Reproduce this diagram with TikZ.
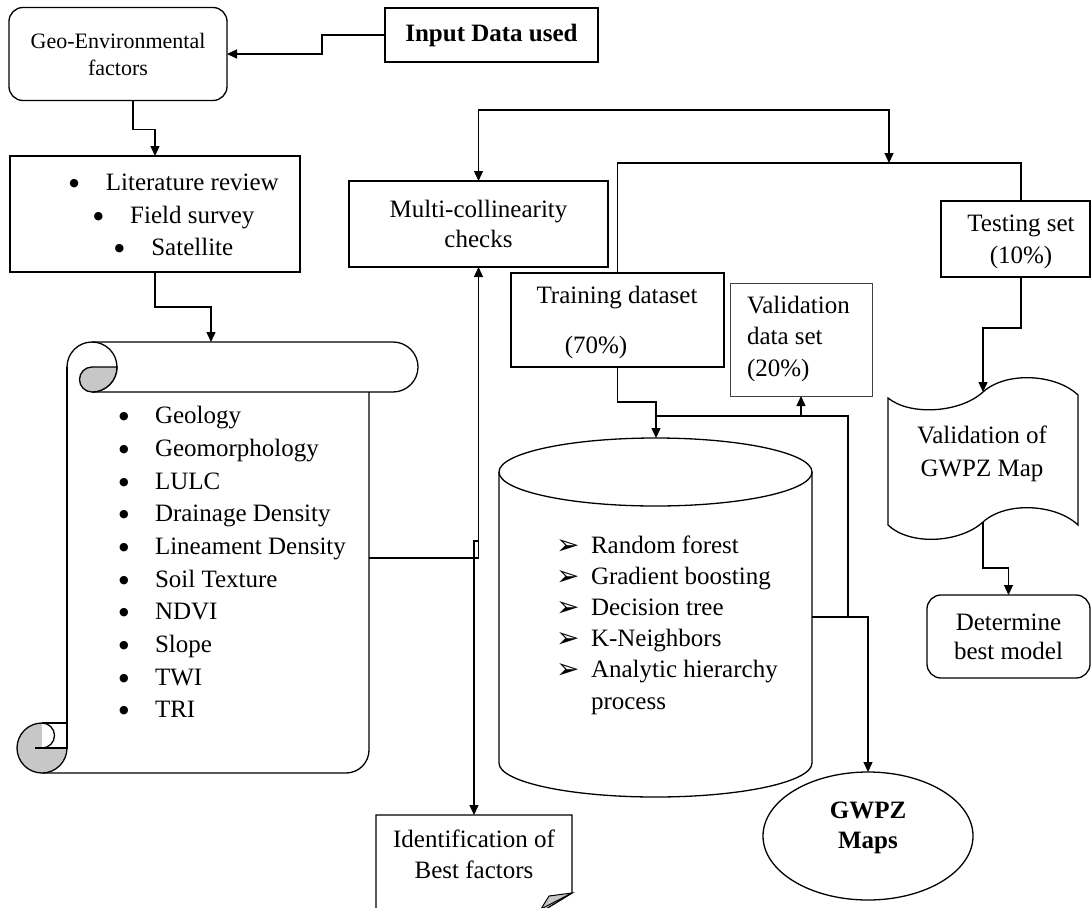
\documentclass[tikz,border=0pt]{standalone}
\usepackage{fontspec}
\setmainfont{Liberation Serif}
\newfontfamily\symfont{DejaVu Sans}
\usetikzlibrary{arrows.meta,shapes.geometric}
\newcommand\mkarr{\makebox[35pt][l]{\raisebox{-1pt}{\symfont\fontsize{28}{28}\selectfont ➢}}}
\newcommand\mkdot{\raisebox{4pt}{\symfont\fontsize{11}{11}\selectfont ●}}
\newcommand\mkbul{\makebox[36pt][l]{\mkdot}}
\begin{document}
\begin{tikzpicture}[x=1pt,y=-1pt, line width=1.3pt,
  every node/.style={inner sep=0pt, outer sep=0pt, font=\fontsize{25}{31}\selectfont},
  arr/.style={-{Triangle[length=10pt,width=9pt]}},
  dbl/.style={{Triangle[length=10pt,width=9pt]}-{Triangle[length=10pt,width=9pt]}},
  boxs/.style={draw, rectangle, line width=1.3pt},
  rbox/.style={draw, rectangle, rounded corners=14pt, line width=1.3pt},
  curl/.style={fill=black!22, line width=1.3pt}
]
\path[use as bounding box] (0,0) rectangle (1091,907);
\clip (0,0) rectangle (1091,907);

% ---------- boxes ----------
\node[rbox, minimum width=218pt, minimum height=93pt, align=center,
      font=\fontsize{22}{27}\selectfont] (geo) at (118,54) {Geo-Environmental\\factors};
\node[boxs, minimum width=213pt, minimum height=54pt,
      font=\fontsize{25}{30}\selectfont\bfseries] (input) at (491.5,35) {Input Data used};

\node[boxs, minimum width=290pt, minimum height=116pt] (lit) at (155,214) {};
\node[align=center, font=\fontsize{25}{32.5}\selectfont] (littxt) at (174,215)
  {\mkdot\hspace{27pt}Literature review\\ \mkdot\hspace{27pt}Field survey\\ \mkdot\hspace{27pt}Satellite};

\node[boxs, minimum width=259pt, minimum height=86pt, align=center,
      font=\fontsize{25}{30}\selectfont] (multi) at (478.5,224) {Multi-collinearity\\checks};

\node[boxs, minimum width=213pt, minimum height=94pt] (train) at (617.5,320) {};
\node (traintxt) at (617,298) {Training dataset};
\node (trainpct) at (596,347) {(70\%)};

\node[draw=black!75, line width=0.9pt, minimum width=142pt, minimum height=113pt] (val) at (801,339.5) {};
\node[anchor=west, align=left, font=\fontsize{25}{31.5}\selectfont] (valtxt) at (747,338.5)
  {Validation\\data set\\(20\%)};

\node[boxs, minimum width=149pt, minimum height=76pt] (test) at (1015.5,239) {};
\node[align=center, font=\fontsize{25}{32}\selectfont] (testtxt) at (1021,242) {Testing set\\(10\%)};

% ---------- scroll ----------
\draw (67,367) arc[start angle=180, end angle=270, radius=25] -- (393,342)
      arc[start angle=270, end angle=450, radius=25] -- (92,392);
\draw (92,342) arc[start angle=270, end angle=450, radius=25];
\filldraw[curl] (92,367) -- (117,367) arc[start angle=0, end angle=90, radius=25]
      arc[start angle=90, end angle=270, radius=12.5] -- cycle;
\draw (67,367) -- (67,748);
\draw (369,392) -- (369,750) arc[start angle=0, end angle=90, radius=23] -- (42,773);
\filldraw[curl] (42,748) circle[radius=25];
\fill[white] (42,723) rectangle (67,748);
\draw (42,723) -- (67,723) -- (67,748) -- (35,748);
\draw (42,723) arc[start angle=270, end angle=450, radius=12.5];
\coordinate (scrolltop) at (211,342);
\coordinate (scrollright) at (369,558);
\node[anchor=west, align=left, font=\fontsize{25}{32.67}\selectfont] (scrolltxt) at (119,562)
  {\mkbul Geology\\ \mkbul Geomorphology\\ \mkbul LULC\\ \mkbul Drainage Density\\
   \mkbul Lineament Density\\ \mkbul Soil Texture\\ \mkbul NDVI\\ \mkbul Slope\\
   \mkbul TWI\\ \mkbul TRI};

% ---------- cylinder ----------
\draw (499,472) -- (499,763) arc[start angle=180, end angle=0, x radius=156.5, y radius=34] -- (812,472);
\draw (655.5,472) ellipse[x radius=156.5, y radius=34];
\coordinate (cyltop) at (656,438);
\coordinate (cylright) at (812,617);
\node[anchor=west, align=left, font=\fontsize{25}{31.2}\selectfont] (cyltxt) at (556,625)
  {\mkarr Random forest\\ \mkarr Gradient boosting\\ \mkarr Decision tree\\
   \mkarr K-Neighbors\\ \mkarr Analytic hierarchy\\ \hspace*{35pt}process};

% ---------- validation of GWPZ map (punched tape) ----------
\draw (888,398) .. controls (910,416) and (960,413) .. (983,392)
      .. controls (1006,371) and (1056,374) .. (1078,395) -- (1078,525)
      .. controls (1056,504) and (1006,501) .. (983,522)
      .. controls (960,543) and (910,546) .. (888,525) -- cycle;
\coordinate (vmaptop) at (983,392);
\coordinate (vmapbot) at (983,522);
\node[align=center, font=\fontsize{25}{33}\selectfont] (vmaptxt) at (982,453.5) {Validation of\\GWPZ Map};

\node[rbox, minimum width=163pt, minimum height=83pt, align=center,
      font=\fontsize{25}{29}\selectfont] (det) at (1008.5,636.5) {Determine\\best model};

% ---------- GWPZ maps ----------
\node[draw, ellipse, minimum width=210pt, minimum height=128pt] (gwpz) at (868,836) {};
\node[align=center, font=\fontsize{25}{30}\selectfont\bfseries] (gwpztxt) at (868,828) {GWPZ\\Maps};

% ---------- identification ----------
\draw (376,915) -- (376,815) -- (572,815) -- (572,893) -- (541,912);
\filldraw[fill=black!22, line width=1pt] (572,893) -- (549,896) -- (541,909) -- cycle;
\coordinate (identtop) at (474,815);
\node[align=center, font=\fontsize{25}{31}\selectfont] (identtxt) at (474,854.5) {Identification of\\Best factors};

% ---------- junction coordinates ----------
\coordinate (j1) at (478.5,541);
\coordinate (topL) at (478.5,110);
\coordinate (topR) at (889,110);
\coordinate (split) at (889,163);
\coordinate (testtop) at (1021,201);
\coordinate (testbot) at (1021,277);
\coordinate (j2) at (848,617);
\coordinate (j3) at (848,416);
\coordinate (j4) at (656,416);

% ---------- connectors ----------
\draw[arr] (input.west) -- (322,35) |- (geo.east);
\draw[arr] ([xshift=15pt]geo.south) -- ++(0,29) -| (lit.north);
\draw[arr] (lit.south) -- ++(0,35) -| (scrolltop);
\draw[arr] (scrollright) -| (multi.south);
\draw[arr] (j1) -- ++(-4.5,0) -- (identtop);
\draw[dbl] (multi.north) -- (topL) -- (topR) -- (split);
\draw (train.north) -- (train.north |- split) -| (testtop);
\draw[arr] (testbot) -- ++(0,51) -| (vmaptop);
\draw[arr] (vmapbot) -- ++(0,46) -| (det.north);
\draw[arr] (train.south) -- ++(0,35) -| (cyltop);
\draw[arr] (cylright) -| (gwpz.north);
\draw (j2) -- (j3) -- (j4);
\draw[arr] (val.south |- j3) -- (val.south);
\end{tikzpicture}
\end{document}
